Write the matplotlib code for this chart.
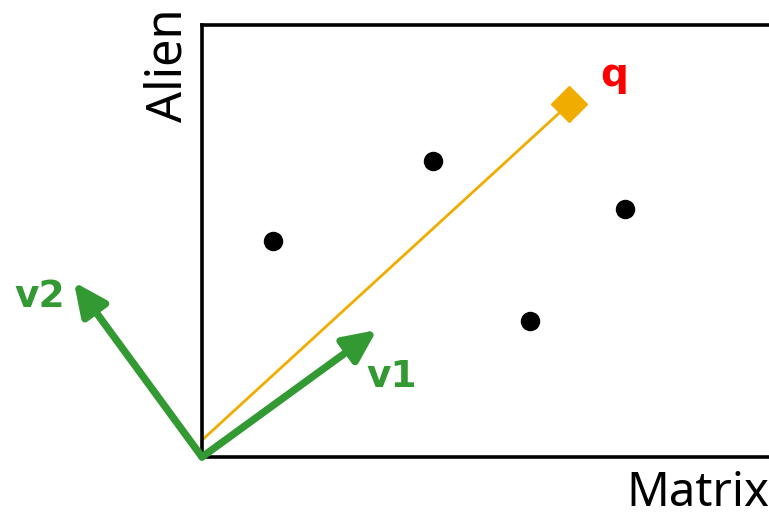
import matplotlib.pyplot as plt

# document points in the Matrix / Alien plane
doc_x = [1.23, 4.00, 7.33, 5.68]
doc_y = [5.00, 6.85, 5.74, 3.15]

# query point and where its ray starts
query = (6.36, 8.17)
query_start = (0.0, 0.39)

# basis vectors drawn from the origin
origin = (0.0, 0.0)
v1 = (3.03, 2.94)
v2 = (-2.22, 4.05)

GREEN = '#339933'
ORANGE = '#f0ad00'

fig = plt.figure(figsize=(7.69, 5.17), dpi=100)
ax = fig.add_axes([202 / 769, 60 / 517, 577 / 769, 432 / 517])
ax.set_xlim(0, 10)
ax.set_ylim(0, 10)
ax.set_xticks([])
ax.set_yticks([])
ax.spines['right'].set_visible(False)
for side in ['left', 'top', 'bottom']:
    ax.spines[side].set_linewidth(2.6)

ax.plot(doc_x, doc_y, 'o', color='black', markersize=13, zorder=3)

# query ray ending in a diamond
ax.plot([query_start[0], query[0]], [query_start[1], query[1]],
        color=ORANGE, lw=2.0, zorder=2)
ax.plot([query[0]], [query[1]], 'D', color=ORANGE, markersize=18, zorder=3)
ax.text(query[0] + 0.78, query[1] + 0.67, 'q', color='red', fontsize=28,
        fontweight='bold', ha='center', va='center')

# v1 and v2
for vec in (v1, v2):
    ax.annotate('', xy=vec, xytext=origin, annotation_clip=False,
                arrowprops=dict(arrowstyle='-|>,head_length=0.9,head_width=0.42',
                                mutation_scale=22, lw=5.3, color=GREEN,
                                shrinkA=0, shrinkB=0), zorder=4)
ax.text(v1[0] + 0.25, v1[1] - 1.09, 'v1', color=GREEN, fontsize=27,
        fontweight='bold', ha='center', va='center', clip_on=False)
ax.text(v2[0] - 0.59, v2[1] - 0.35, 'v2', color=GREEN, fontsize=27,
        fontweight='bold', ha='center', va='center', clip_on=False)

# axis names
fig.text(1.0, 0.0, 'Matrix', fontsize=34, family='Noto Sans',
         ha='right', va='bottom')
fig.text(169 / 769, 1 - 8 / 517, 'Alien', fontsize=35, family='Noto Sans',
         rotation=90, ha='center', va='top')

fig.savefig('out.png', dpi=100)
